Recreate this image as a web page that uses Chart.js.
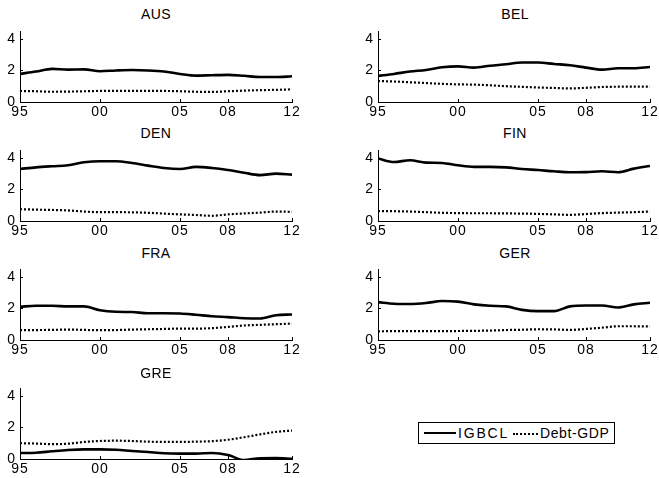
<!DOCTYPE html>
<html>
<head>
<meta charset="utf-8">
<script src="https://cdn.jsdelivr.net/npm/chart.js@4/dist/chart.umd.min.js"></script>
<style>
  html, body { margin: 0; padding: 0; background: #fff; }
  body { width: 659px; height: 478px; position: relative; overflow: hidden; font-family: "Liberation Sans", Arial, sans-serif; }
  .panel { position: absolute; }
  .ttl { position: absolute; width: 120px; text-align: center; font-size: 14px; letter-spacing: 0.4px; color: #000; line-height: 14px; }
  #legend { position: absolute; left: 418px; top: 422px; width: 195px; height: 20px; border: 1px solid #000; font-size: 14px; color: #000; }
  #legend span { position: absolute; top: 2px; line-height: 16px; }
  #legend i { position: absolute; display: block; height: 0; }
</style>
</head>
<body>
<div id="legend">
  <i style="left:5px; top:9px; width:32px; border-top:2.5px solid #000;"></i>
  <span style="left:39px; letter-spacing:1.8px;">IGBCL</span>
  <i style="left:94px; top:10px; width:25px; border-top:2px dotted #000;"></i>
  <span style="left:121px; letter-spacing:0.6px;">Debt-GDP</span>
</div>
<script>
// ---- data ----
const years = [1995,1996,1997,1998,1999,2000,2001,2002,2003,2004,2005,2006,2007,2008,2009,2010,2011,2012];
const xTickValues = [1995, 2000, 2005, 2008, 2012];
const yTickValues = [0, 2, 4];
const countries = ["AUS", "BEL", "DEN", "FIN", "FRA", "GER", "GRE"];
const seriesNames = ["IGBCL", "Debt-GDP"];

const igbclAUS = [1.78,1.93,2.1,2.05,2.07,1.95,2.0,2.03,2.0,1.93,1.78,1.67,1.7,1.72,1.66,1.58,1.58,1.63];
const debtAUS  = [0.7,0.68,0.65,0.66,0.68,0.7,0.7,0.7,0.7,0.7,0.68,0.65,0.64,0.68,0.72,0.75,0.77,0.8];
const igbclBEL = [1.65,1.78,1.93,2.03,2.2,2.26,2.18,2.3,2.39,2.5,2.5,2.41,2.33,2.18,2.05,2.14,2.14,2.22];
const debtBEL  = [1.33,1.3,1.25,1.2,1.15,1.12,1.1,1.06,1.0,0.96,0.92,0.89,0.86,0.9,0.95,0.97,0.98,0.98];
const igbclDEN = [3.3,3.4,3.47,3.53,3.72,3.79,3.79,3.68,3.51,3.36,3.3,3.43,3.36,3.23,3.06,2.91,3.0,2.94];
const debtDEN  = [0.75,0.72,0.7,0.67,0.6,0.56,0.56,0.55,0.52,0.47,0.42,0.38,0.33,0.42,0.48,0.53,0.6,0.58];
const igbclFIN = [3.96,3.74,3.85,3.7,3.68,3.53,3.43,3.43,3.4,3.3,3.23,3.15,3.09,3.1,3.15,3.09,3.32,3.49];
const debtFIN  = [0.63,0.62,0.6,0.56,0.52,0.5,0.49,0.49,0.48,0.47,0.45,0.42,0.39,0.44,0.5,0.53,0.56,0.6];
const igbclFRA = [2.1,2.17,2.17,2.13,2.13,1.89,1.79,1.77,1.7,1.7,1.68,1.6,1.51,1.45,1.38,1.36,1.57,1.62];
const debtFRA  = [0.62,0.63,0.64,0.66,0.64,0.62,0.63,0.66,0.68,0.7,0.72,0.72,0.75,0.83,0.92,0.96,1.0,1.04];
const igbclGER = [2.4,2.3,2.28,2.34,2.47,2.43,2.26,2.17,2.13,1.91,1.83,1.83,2.13,2.19,2.19,2.06,2.26,2.36];
const debtGER  = [0.55,0.56,0.56,0.56,0.56,0.57,0.58,0.6,0.63,0.65,0.68,0.67,0.64,0.7,0.78,0.87,0.87,0.86];
const igbclGRE = [0.38,0.4,0.49,0.57,0.61,0.61,0.59,0.51,0.44,0.36,0.34,0.34,0.38,0.25,-0.07,0.05,0.06,0.02];
const debtGRE  = [1.0,0.98,0.94,0.97,1.08,1.14,1.16,1.14,1.1,1.08,1.08,1.1,1.13,1.22,1.38,1.56,1.72,1.8];

const igbcl = [igbclAUS, igbclBEL, igbclDEN, igbclFIN, igbclFRA, igbclGER, igbclGRE];
const debt  = [debtAUS, debtBEL, debtDEN, debtFIN, debtFRA, debtGER, debtGRE];

// ---- layout ----
const FONT = "'Liberation Sans', Arial, sans-serif";
Chart.defaults.color = '#000';
Chart.defaults.font.family = FONT;
Chart.defaults.font.size = 14;

const rowTops = [31, 150, 269, 388];           // top of plotting area
const colLeft = [0, 358];                      // canvas left
const colWidth = [306, 301];
const colPadRight = [14, 9];
const titleCx = [156, 515];
const titleCy = [14, 133, 253, 373];
const PADTOP = 8, XH = 18, PLOTH = 71;

const inTicks = {
  id: 'inTicks',
  beforeDraw(chart) { chart.ctx.letterSpacing = '1px'; },
  afterDatasetsDraw(chart) {
    const {ctx, chartArea: a, scales: {x, y}} = chart;
    ctx.save();
    ctx.strokeStyle = '#000';
    ctx.lineWidth = 1;
    ctx.beginPath();
    x.ticks.forEach(t => {
      const px = Math.round(x.getPixelForValue(t.value)) + 0.5;
      ctx.moveTo(px, a.bottom); ctx.lineTo(px, a.bottom - 3);
    });
    y.ticks.forEach(t => {
      const py = Math.round(y.getPixelForValue(t.value)) + 0.5;
      ctx.moveTo(a.left, py); ctx.lineTo(a.left + 3, py);
    });
    ctx.stroke();
    ctx.restore();
  }
};

countries.forEach((name, i) => {
  const row = Math.floor(i / 2), col = i % 2;
  const div = document.createElement('div');
  div.className = 'panel';
  const W = colWidth[col], H = PADTOP + PLOTH + XH;
  div.style.left = colLeft[col] + 'px';
  div.style.top = (rowTops[row] - PADTOP) + 'px';
  div.style.width = W + 'px';
  div.style.height = H + 'px';
  const cv = document.createElement('canvas');
  div.appendChild(cv);
  document.body.appendChild(div);

  const t = document.createElement('div');
  t.className = 'ttl';
  t.textContent = name;
  t.style.left = (titleCx[col] - 60) + 'px';
  t.style.top = (titleCy[row] - 7) + 'px';
  document.body.appendChild(t);

  new Chart(cv, {
    type: 'line',
    data: {
      datasets: [
        { label: seriesNames[0], data: years.map((yr, k) => ({x: yr, y: igbcl[i][k]})),
          borderColor: '#000', borderWidth: 2.6, pointRadius: 0, cubicInterpolationMode: 'monotone', fill: false },
        { label: seriesNames[1], data: years.map((yr, k) => ({x: yr, y: debt[i][k]})),
          borderColor: '#000', borderWidth: 2.2, borderDash: [2, 2], pointRadius: 0, cubicInterpolationMode: 'monotone', fill: false }
      ]
    },
    options: {
      responsive: true, maintainAspectRatio: false, animation: false,
      layout: { padding: { top: PADTOP, right: colPadRight[col], left: 0, bottom: 0 } },
      plugins: { legend: { display: false }, tooltip: { enabled: false }, title: { display: false } },
      scales: {
        x: {
          type: 'linear', min: 1995, max: 2012,
          afterBuildTicks: s => { s.ticks = xTickValues.map(v => ({value: v})); },
          afterFit: s => { s.height = XH; s.paddingLeft = 0; s.paddingRight = 0; },
          grid: { display: true, drawOnChartArea: false, drawTicks: false },
          border: { display: true, color: '#000', width: 1 },
          ticks: { padding: 2, maxRotation: 0, autoSkip: false, font: { size: 14 },
                   callback: v => String(v % 100).padStart(2, '0') }
        },
        y: {
          min: 0, max: 4.5,
          afterBuildTicks: s => { s.ticks = yTickValues.map(v => ({value: v})); },
          afterFit: s => { s.width = 20; s.paddingTop = 0; s.paddingBottom = 0; },
          grid: { display: true, drawOnChartArea: false, drawTicks: false },
          border: { display: true, color: '#000', width: 1 },
          ticks: { padding: 4, font: { size: 14 }, callback: v => String(v) }
        }
      }
    },
    plugins: [inTicks]
  });
});
</script>
</body>
</html>
